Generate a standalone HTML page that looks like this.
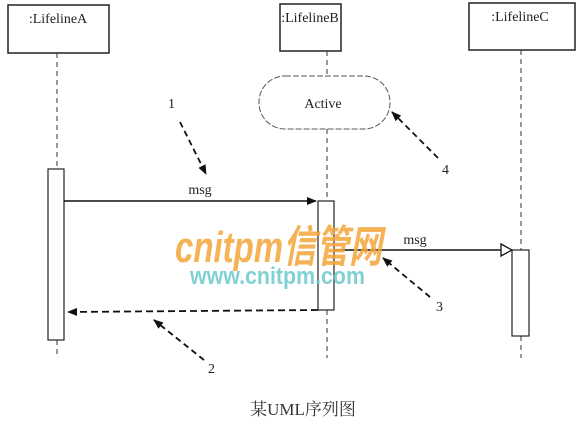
<!DOCTYPE html>
<html><head><style>
body{margin:0;width:576px;height:424px;background:#fff;overflow:hidden}
</style></head><body>
<svg width="576" height="424" xmlns="http://www.w3.org/2000/svg" font-family="Liberation Serif, 'Noto Serif CJK SC', serif">
<defs>
<marker id="af" markerWidth="10" markerHeight="8" refX="9" refY="4" orient="auto" markerUnits="userSpaceOnUse"><path d="M0,0 L10,4 L0,8 Z" fill="#111"/></marker>
</defs>
<g fill="#fff" stroke="#222" stroke-width="1.5">
<rect x="8" y="5" width="101" height="48"/>
<rect x="280" y="4" width="61" height="47"/>
<rect x="469" y="3" width="106" height="47"/>
</g>
<g font-size="14" fill="#222" text-anchor="middle">
<text x="58" y="23">:LifelineA</text>
<text x="310" y="22">:LifelineB</text>
<text x="520" y="21">:LifelineC</text>
</g>
<g stroke="#333" stroke-width="1" stroke-dasharray="5,4" fill="none">
<line x1="57" y1="53" x2="57" y2="169"/>
<line x1="57" y1="340" x2="57" y2="358"/>
<line x1="327" y1="51" x2="327" y2="76"/>
<line x1="327" y1="129" x2="327" y2="200"/>
<line x1="327" y1="310" x2="327" y2="358"/>
<line x1="521" y1="50" x2="521" y2="250"/>
<line x1="521" y1="336" x2="521" y2="358"/>
</g>
<rect x="259" y="76" width="131" height="53" rx="26" fill="#fff" stroke="#555" stroke-width="1" stroke-dasharray="6,2"/>
<text x="323" y="108" font-size="14" text-anchor="middle" fill="#222">Active</text>
<g fill="#fff" stroke="#222" stroke-width="1.2">
<rect x="48" y="169" width="16" height="171"/>
<rect x="318" y="201" width="16" height="109"/>
<rect x="512" y="250" width="17" height="86"/>
</g>
<line x1="64" y1="201" x2="316" y2="201" stroke="#111" stroke-width="1.5" marker-end="url(#af)"/>
<text x="200" y="194" font-size="14" text-anchor="middle" fill="#222">msg</text>
<line x1="334" y1="250" x2="504" y2="250" stroke="#111" stroke-width="1.5"/>
<path d="M501,244 L512,250 L501,256 Z" fill="#fff" stroke="#111" stroke-width="1.3"/>
<text x="415" y="244" font-size="14" text-anchor="middle" fill="#222">msg</text>
<line x1="318" y1="310" x2="68" y2="312" stroke="#111" stroke-width="1.8" stroke-dasharray="7,4" marker-end="url(#af)"/>
<g stroke="#111" stroke-width="1.8" stroke-dasharray="6,4" fill="none">
<line x1="180" y1="122" x2="206" y2="174" marker-end="url(#af)"/>
<line x1="438" y1="158" x2="392" y2="112" marker-end="url(#af)"/>
<line x1="430" y1="297" x2="383" y2="258" marker-end="url(#af)"/>
<line x1="204" y1="360" x2="154" y2="320" marker-end="url(#af)"/>
</g>
<g font-size="14" fill="#222">
<text x="168" y="108">1</text>
<text x="442" y="174">4</text>
<text x="436" y="311">3</text>
<text x="208" y="373">2</text>
</g>
<text x="175" y="262" font-family="Liberation Sans, 'Noto Sans CJK SC', sans-serif" font-size="44" font-weight="bold" font-style="italic" fill="#f5a53a" opacity="0.85" textLength="207" lengthAdjust="spacingAndGlyphs">cnitpm信管网</text>
<text x="190" y="284" font-family="Liberation Sans, sans-serif" font-size="24" font-weight="bold" fill="#6cc9cc" opacity="0.85" textLength="175" lengthAdjust="spacingAndGlyphs">www.cnitpm.com</text>
<text x="303" y="415" font-size="17" text-anchor="middle" fill="#333">某UML序列图</text>
</svg>
</body></html>
